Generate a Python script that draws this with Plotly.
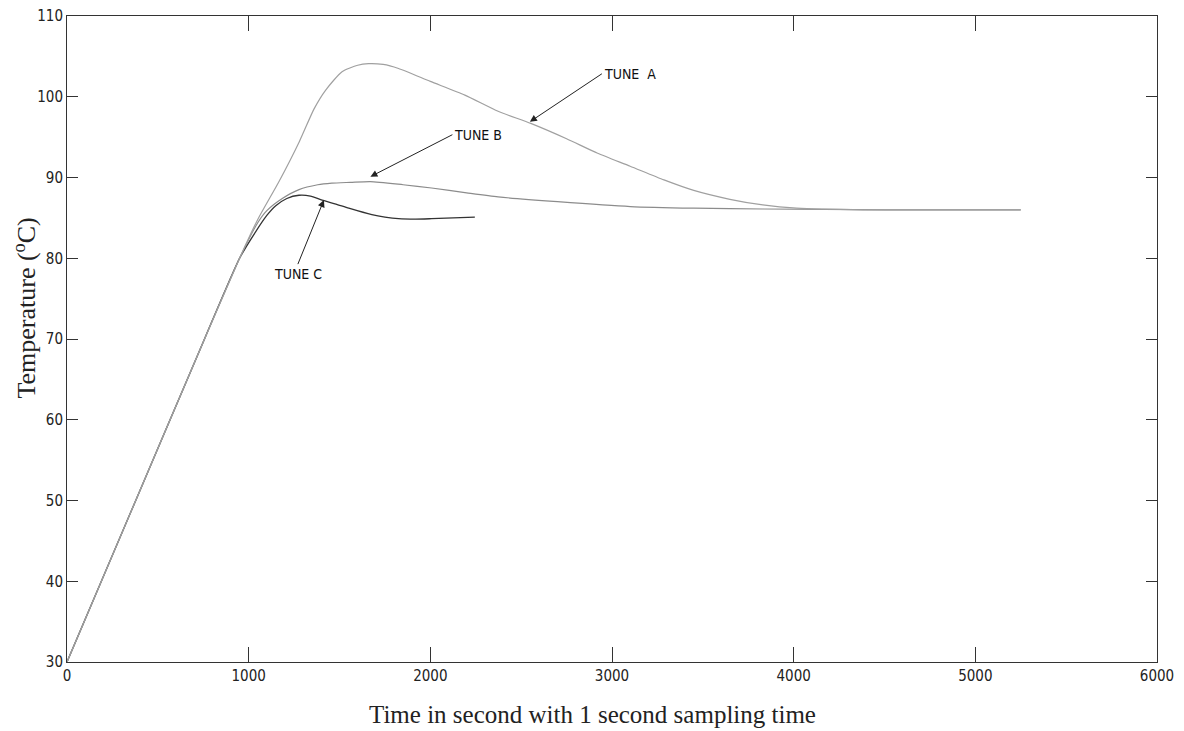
import plotly.graph_objects as go

# Common heating ramp (shared by all tunings)
ramp_t = [0, 350, 700, 950]
ramp_T = [30.0, 48.5, 67.0, 80.0]

# TUNE A
a_t = [1050, 1167, 1280, 1360, 1423, 1514, 1600, 1660, 1740, 1825, 2000, 2190, 2373, 2553, 2750, 2921, 3100, 3286, 3450, 3649, 3830, 4016, 4382, 4800, 5250]
a_T = [84.8, 89.5, 94.5, 98.5, 100.8, 103.1, 103.9, 104.1, 104.0, 103.5, 101.9, 100.2, 98.2, 96.7, 94.8, 93.0, 91.4, 89.7, 88.4, 87.3, 86.6, 86.2, 86.0, 86.0, 86.0]

# TUNE B
b_t = [1050, 1100, 1185, 1277, 1380, 1458, 1560, 1670, 1850, 2007, 2200, 2373, 2700, 3101, 3450, 3834, 4500, 5250]
b_T = [84.4, 85.9, 87.4, 88.5, 89.1, 89.3, 89.4, 89.5, 89.1, 88.7, 88.1, 87.6, 87.0, 86.4, 86.2, 86.1, 86.0, 86.0]

# TUNE C
c_t = [1039, 1100, 1149, 1210, 1277, 1340, 1404, 1480, 1551, 1678, 1750, 1825, 1920, 2007, 2245]
c_T = [83.3, 85.3, 86.5, 87.4, 87.8, 87.7, 87.2, 86.7, 86.2, 85.4, 85.1, 84.9, 84.85, 84.9, 85.1]

x_ticks = [0, 1000, 2000, 3000, 4000, 5000, 6000]
y_ticks = [30, 40, 50, 60, 70, 80, 90, 100, 110]

fig = go.Figure()
# Drawn C first so the light-grey A trace lies on top along the shared ramp
fig.add_trace(go.Scatter(x=ramp_t + c_t, y=ramp_T + c_T, mode="lines",
                         line=dict(color="#333333", width=1.3, shape="spline", smoothing=0.6),
                         name="TUNE C"))
fig.add_trace(go.Scatter(x=ramp_t + b_t, y=ramp_T + b_T, mode="lines",
                         line=dict(color="#8c8c8c", width=1.2, shape="spline", smoothing=0.6),
                         name="TUNE B"))
fig.add_trace(go.Scatter(x=ramp_t + a_t, y=ramp_T + a_T, mode="lines",
                         line=dict(color="#a0a0a0", width=1.2, shape="spline", smoothing=0.6),
                         name="TUNE A"))

ann_font = dict(family="DejaVu Sans Condensed, Liberation Sans Narrow, sans-serif",
                size=14, color="#111")
fig.add_annotation(x=2548, y=96.9, text="TUNE&nbsp;&nbsp;A", showarrow=True, ax=72, ay=-48,
                   xanchor="left", yanchor="middle", arrowhead=2, arrowsize=1.4,
                   arrowwidth=1, arrowcolor="#222", font=ann_font)
fig.add_annotation(x=1670, y=90.1, text="TUNE B", showarrow=True, ax=82, ay=-42,
                   xanchor="left", yanchor="middle", arrowhead=2, arrowsize=1.4,
                   arrowwidth=1, arrowcolor="#222", font=ann_font)
fig.add_annotation(x=1414, y=87.2, text="TUNE C", showarrow=True, ax=-26, ay=64,
                   xanchor="center", yanchor="top", arrowhead=2, arrowsize=1.4,
                   arrowwidth=1, arrowcolor="#222", font=ann_font)

title_font_x = dict(family="Liberation Serif, Times New Roman, serif", size=25, color="#222")
title_font_y = dict(family="Liberation Serif, Times New Roman, serif", size=26, color="#222")
# Axis titles placed as paper annotations to match the reference positions
fig.add_annotation(xref="paper", yref="paper", x=0.4817, y=-0.082,
                   text="Time in second with 1 second sampling time", showarrow=False,
                   xanchor="center", yanchor="middle", font=title_font_x)
fig.add_annotation(xref="paper", yref="paper", x=-0.038, y=0.548,
                   text="Temperature (<sup>o</sup>C)", showarrow=False, textangle=-90,
                   xanchor="center", yanchor="middle", font=title_font_y)

tick_font = dict(family="DejaVu Sans Condensed, Liberation Sans Narrow, sans-serif",
                 size=15, color="#222")

# The page body has an 8px margin, so the figure is sized/offset to compensate
fig.update_layout(
    width=1168, height=723,
    margin=dict(l=59, r=19, t=8, b=69),
    paper_bgcolor="white", plot_bgcolor="white",
    showlegend=False,
    xaxis=dict(range=[0, 6000], tickvals=x_ticks, ticktext=[str(v) for v in x_ticks],
               ticks="inside", ticklen=15, tickcolor="#333", showline=True, linecolor="#333",
               linewidth=1, mirror="ticks", showgrid=False, zeroline=False,
               tickfont=tick_font, automargin=False, ticklabeloverflow="allow"),
    yaxis=dict(range=[30, 110], tickvals=y_ticks, ticktext=[str(v) for v in y_ticks],
               ticks="inside", ticklen=11, tickcolor="#333", showline=True, linecolor="#333",
               linewidth=1, mirror="ticks", showgrid=False, zeroline=False,
               tickfont=tick_font, automargin=False, ticklabeloverflow="allow"),
)

fig.write_html("out.html")
